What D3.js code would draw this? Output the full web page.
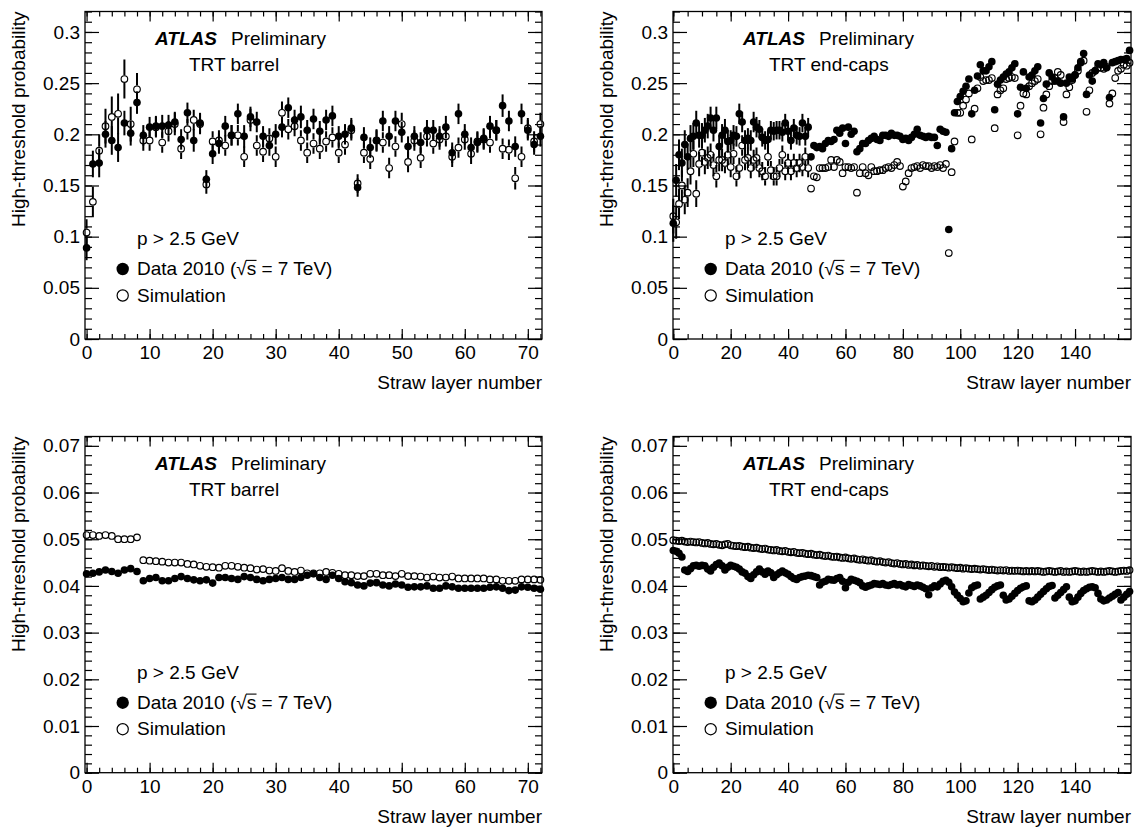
<!DOCTYPE html>
<html>
<head>
<meta charset="utf-8">
<script src="https://cdn.jsdelivr.net/npm/d3@7"></script>
<style>
body{margin:0;background:#fff}
svg{display:block}
text{font-family:"Liberation Sans",Arial,Helvetica,sans-serif;fill:#000}
</style>
</head>
<body>
<svg id="chart" width="1136" height="829"></svg>
<script>
// straw layer numbers
var layersBarrel = d3.range(0, 73)
var layersEndcap = d3.range(0, 160)

// barrel, electrons (p > 2.5 GeV)
var dataBarrelHigh = [
  0.089, 0.171, 0.172, 0.200, 0.194, 0.187, 0.211, 0.201, 0.231, 0.199,
  0.207, 0.208, 0.208, 0.209, 0.212, 0.195, 0.221, 0.194, 0.211, 0.156,
  0.181, 0.191, 0.208, 0.199, 0.220, 0.198, 0.217, 0.212, 0.198, 0.189,
  0.200, 0.207, 0.226, 0.214, 0.217, 0.204, 0.215, 0.203, 0.214, 0.218,
  0.198, 0.200, 0.206, 0.148, 0.197, 0.187, 0.194, 0.213, 0.198, 0.213,
  0.202, 0.188, 0.198, 0.192, 0.204, 0.204, 0.198, 0.207, 0.182, 0.220,
  0.200, 0.187, 0.192, 0.196, 0.208, 0.204, 0.228, 0.213, 0.188, 0.220,
  0.204, 0.190, 0.198]
var errBarrelData = [
  0.012, 0.013, 0.014, 0.013, 0.014, 0.014, 0.012, 0.012, 0.011, 0.010,
  0.010, 0.010, 0.011, 0.010, 0.010, 0.010, 0.010, 0.011, 0.010, 0.009,
  0.010, 0.010, 0.010, 0.010, 0.010, 0.011, 0.010, 0.010, 0.010, 0.010,
  0.010, 0.010, 0.010, 0.010, 0.011, 0.010, 0.010, 0.010, 0.010, 0.010,
  0.010, 0.010, 0.010, 0.009, 0.010, 0.010, 0.011, 0.010, 0.010, 0.010,
  0.010, 0.010, 0.010, 0.010, 0.010, 0.010, 0.010, 0.011, 0.010, 0.010,
  0.010, 0.010, 0.010, 0.010, 0.010, 0.010, 0.011, 0.010, 0.010, 0.010,
  0.010, 0.010, 0.010]
var simBarrelHigh = [
  0.104, 0.134, 0.184, 0.208, 0.217, 0.220, 0.254, 0.210, 0.244, 0.194,
  0.194, 0.207, 0.192, 0.203, 0.210, 0.186, 0.205, 0.214, 0.210, 0.151,
  0.193, 0.194, 0.189, 0.199, 0.199, 0.178, 0.214, 0.189, 0.183, 0.196,
  0.178, 0.221, 0.205, 0.208, 0.194, 0.182, 0.191, 0.186, 0.193, 0.197,
  0.182, 0.190, 0.204, 0.152, 0.182, 0.176, 0.194, 0.192, 0.167, 0.188,
  0.210, 0.173, 0.194, 0.177, 0.198, 0.191, 0.195, 0.198, 0.178, 0.187,
  0.195, 0.181, 0.193, 0.195, 0.192, 0.204, 0.186, 0.185, 0.157, 0.178,
  0.206, 0.193, 0.210]
var errBarrelSim = [
  0.013, 0.015, 0.016, 0.017, 0.020, 0.020, 0.019, 0.017, 0.016, 0.010,
  0.010, 0.010, 0.010, 0.010, 0.011, 0.010, 0.010, 0.010, 0.010, 0.009,
  0.010, 0.010, 0.010, 0.010, 0.010, 0.010, 0.011, 0.010, 0.010, 0.010,
  0.010, 0.011, 0.010, 0.010, 0.010, 0.010, 0.010, 0.010, 0.010, 0.010,
  0.010, 0.010, 0.010, 0.009, 0.010, 0.010, 0.010, 0.010, 0.010, 0.010,
  0.011, 0.010, 0.010, 0.010, 0.010, 0.010, 0.010, 0.010, 0.010, 0.010,
  0.010, 0.010, 0.010, 0.010, 0.010, 0.010, 0.010, 0.010, 0.011, 0.010,
  0.010, 0.010, 0.011]

// end-caps, electrons
var dataEndcapHigh = [
  0.113, 0.155, 0.180, 0.172, 0.190, 0.178, 0.196, 0.198, 0.211, 0.199,
  0.199, 0.204, 0.208, 0.216, 0.204, 0.216, 0.188, 0.199, 0.204, 0.193,
  0.194, 0.199, 0.198, 0.220, 0.212, 0.194, 0.196, 0.194, 0.212, 0.207,
  0.205, 0.197, 0.194, 0.195, 0.204, 0.203, 0.204, 0.204, 0.202, 0.211,
  0.203, 0.194, 0.206, 0.199, 0.198, 0.211, 0.198, 0.207, 0.178, 0.189,
  0.187, 0.188, 0.186, 0.191, 0.194, 0.193, 0.195, 0.204, 0.201, 0.206,
  0.191, 0.207, 0.200, 0.203, 0.183, 0.186, 0.191, 0.191, 0.194, 0.196,
  0.198, 0.195, 0.194, 0.199, 0.199, 0.198, 0.201, 0.199, 0.199, 0.198,
  0.195, 0.196, 0.194, 0.197, 0.200, 0.205, 0.199, 0.198, 0.197, 0.198,
  0.197, 0.197, 0.189, 0.205, 0.203, 0.202, 0.107, 0.186, 0.221, 0.232,
  0.237, 0.242, 0.247, 0.254, 0.220, 0.243, 0.257, 0.268, 0.262, 0.262,
  0.266, 0.271, 0.224, 0.249, 0.253, 0.256, 0.259, 0.261, 0.265, 0.269,
  0.220, 0.246, 0.261, 0.245, 0.256, 0.258, 0.262, 0.266, 0.211, 0.235,
  0.249, 0.260, 0.256, 0.252, 0.252, 0.250, 0.217, 0.250, 0.256, 0.254,
  0.258, 0.265, 0.270, 0.279, 0.239, 0.258, 0.252, 0.262, 0.269, 0.268,
  0.270, 0.265, 0.236, 0.270, 0.271, 0.272, 0.273, 0.273, 0.274, 0.282]
var errEndcapData = [
  0.018, 0.016, 0.015, 0.014, 0.014, 0.013, 0.013, 0.013, 0.012, 0.012,
  0.012, 0.012, 0.012, 0.011, 0.011, 0.011, 0.011, 0.011, 0.011, 0.011,
  0.010, 0.010, 0.010, 0.010, 0.010, 0.010, 0.010, 0.010, 0.010, 0.010,
  0.009, 0.009, 0.009, 0.009, 0.009, 0.009, 0.009, 0.009, 0.009, 0.009,
  0.009, 0.009, 0.009, 0.009, 0.009, 0.009, 0.009, 0.009]
var simEndcapHigh = [
  0.120, 0.114, 0.132, 0.150, 0.136, 0.143, 0.164, 0.181, 0.142, 0.171,
  0.182, 0.173, 0.177, 0.180, 0.170, 0.159, 0.175, 0.175, 0.172, 0.180,
  0.168, 0.181, 0.159, 0.167, 0.189, 0.175, 0.177, 0.167, 0.175, 0.177,
  0.167, 0.164, 0.159, 0.178, 0.165, 0.159, 0.159, 0.167, 0.180, 0.164,
  0.172, 0.164, 0.172, 0.167, 0.172, 0.168, 0.178, 0.167, 0.147, 0.159,
  0.158, 0.167, 0.167, 0.167, 0.168, 0.175, 0.168, 0.175, 0.173, 0.162,
  0.168, 0.168, 0.167, 0.168, 0.143, 0.162, 0.168, 0.162, 0.160, 0.168,
  0.164, 0.164, 0.165, 0.165, 0.167, 0.168, 0.167, 0.170, 0.173, 0.169,
  0.149, 0.154, 0.162, 0.167, 0.168, 0.169, 0.167, 0.170, 0.169, 0.169,
  0.167, 0.169, 0.168, 0.170, 0.167, 0.171, 0.084, 0.163, 0.193, 0.221,
  0.221, 0.228, 0.234, 0.240, 0.195, 0.225, 0.245, 0.256, 0.252, 0.253,
  0.253, 0.255, 0.206, 0.239, 0.243, 0.245, 0.254, 0.255, 0.256, 0.255,
  0.199, 0.228, 0.240, 0.239, 0.247, 0.250, 0.252, 0.254, 0.200, 0.226,
  0.239, 0.247, 0.252, 0.255, 0.261, 0.258, 0.212, 0.239, 0.246, 0.253,
  0.258, 0.262, 0.271, 0.272, 0.222, 0.243, 0.260, 0.262, 0.265, 0.265,
  0.264, 0.266, 0.230, 0.240, 0.255, 0.262, 0.264, 0.268, 0.267, 0.270]
var errEndcapSim = [
  0.017, 0.016, 0.015, 0.015, 0.014, 0.014, 0.013, 0.013, 0.013, 0.012,
  0.012, 0.012, 0.011, 0.011, 0.011, 0.011, 0.011, 0.011, 0.010, 0.010,
  0.010, 0.010, 0.010, 0.010, 0.010, 0.010, 0.010, 0.010, 0.010, 0.010,
  0.009, 0.009, 0.009, 0.009, 0.009, 0.009, 0.009, 0.009, 0.009, 0.009,
  0.009, 0.009, 0.009, 0.009, 0.009, 0.009, 0.009, 0.009]

// barrel, pions
var dataBarrelLow = [
  0.0426, 0.0427, 0.0430, 0.0434, 0.0431, 0.0427, 0.0434, 0.0437, 0.0431, 0.0411,
  0.0416, 0.0418, 0.0411, 0.0411, 0.0416, 0.0420, 0.0416, 0.0413, 0.0411, 0.0413,
  0.0406, 0.0418, 0.0418, 0.0416, 0.0414, 0.0420, 0.0418, 0.0414, 0.0411, 0.0414,
  0.0416, 0.0418, 0.0414, 0.0414, 0.0418, 0.0423, 0.0426, 0.0418, 0.0414, 0.0423,
  0.0416, 0.0409, 0.0407, 0.0402, 0.0400, 0.0406, 0.0407, 0.0402, 0.0400, 0.0404,
  0.0402, 0.0397, 0.0398, 0.0398, 0.0400, 0.0395, 0.0395, 0.0400, 0.0398, 0.0395,
  0.0395, 0.0395, 0.0395, 0.0395, 0.0397, 0.0398, 0.0395, 0.0390, 0.0391, 0.0398,
  0.0397, 0.0395, 0.0393]
var simBarrelLow = [
  0.0509, 0.0509, 0.0507, 0.0509, 0.0507, 0.0500, 0.0500, 0.0500, 0.0504, 0.0455,
  0.0454, 0.0453, 0.0452, 0.0450, 0.0450, 0.0450, 0.0447, 0.0446, 0.0443, 0.0441,
  0.0440, 0.0439, 0.0443, 0.0443, 0.0441, 0.0439, 0.0438, 0.0435, 0.0436, 0.0433,
  0.0432, 0.0438, 0.0432, 0.0430, 0.0433, 0.0427, 0.0427, 0.0427, 0.0430, 0.0428,
  0.0426, 0.0423, 0.0423, 0.0421, 0.0421, 0.0426, 0.0426, 0.0423, 0.0423, 0.0421,
  0.0426, 0.0421, 0.0421, 0.0420, 0.0418, 0.0420, 0.0418, 0.0418, 0.0420, 0.0416,
  0.0416, 0.0416, 0.0416, 0.0416, 0.0414, 0.0414, 0.0411, 0.0411, 0.0411, 0.0414,
  0.0414, 0.0414, 0.0413]

// end-caps, pions
var dataEndcapLow = [
  0.0476, 0.0474, 0.0470, 0.0462, 0.0434, 0.0431, 0.0437, 0.0443, 0.0444, 0.0442,
  0.0444, 0.0443, 0.0436, 0.0432, 0.0440, 0.0446, 0.0449, 0.0443, 0.0434, 0.0440,
  0.0444, 0.0442, 0.0440, 0.0436, 0.0430, 0.0427, 0.0420, 0.0416, 0.0424, 0.0430,
  0.0436, 0.0430, 0.0425, 0.0432, 0.0428, 0.0418, 0.0424, 0.0428, 0.0432, 0.0428,
  0.0425, 0.0420, 0.0416, 0.0414, 0.0418, 0.0420, 0.0421, 0.0423, 0.0422, 0.0420,
  0.0418, 0.0402, 0.0408, 0.0410, 0.0414, 0.0413, 0.0412, 0.0416, 0.0418, 0.0410,
  0.0396, 0.0408, 0.0414, 0.0412, 0.0410, 0.0407, 0.0400, 0.0397, 0.0400, 0.0402,
  0.0405, 0.0404, 0.0403, 0.0405, 0.0402, 0.0401, 0.0403, 0.0405, 0.0402, 0.0403,
  0.0400, 0.0398, 0.0403, 0.0401, 0.0399, 0.0402, 0.0400, 0.0397, 0.0394, 0.0381,
  0.0396, 0.0400, 0.0398, 0.0404, 0.0410, 0.0412, 0.0408, 0.0398, 0.0387, 0.0380,
  0.0373, 0.0366, 0.0368, 0.0385, 0.0396, 0.0400, 0.0402, 0.0372, 0.0376, 0.0380,
  0.0386, 0.0392, 0.0397, 0.0400, 0.0402, 0.0380, 0.0370, 0.0372, 0.0378, 0.0384,
  0.0390, 0.0395, 0.0398, 0.0400, 0.0368, 0.0366, 0.0370, 0.0376, 0.0382, 0.0388,
  0.0394, 0.0399, 0.0401, 0.0374, 0.0380, 0.0386, 0.0392, 0.0398, 0.0376, 0.0366,
  0.0368, 0.0376, 0.0384, 0.0390, 0.0394, 0.0397, 0.0398, 0.0396, 0.0384, 0.0372,
  0.0368, 0.0370, 0.0374, 0.0378, 0.0382, 0.0386, 0.0370, 0.0376, 0.0382, 0.0388]
var simEndcapLow = [
  0.0498, 0.0497, 0.0496, 0.0497, 0.0495, 0.0494, 0.0495, 0.0494, 0.0493, 0.0494,
  0.0492, 0.0491, 0.0492, 0.0490, 0.0489, 0.0490, 0.0488, 0.0487, 0.0489, 0.0490,
  0.0487, 0.0486, 0.0485, 0.0486, 0.0484, 0.0483, 0.0484, 0.0482, 0.0481, 0.0482,
  0.0480, 0.0479, 0.0480, 0.0478, 0.0477, 0.0476, 0.0477, 0.0475, 0.0474, 0.0475,
  0.0473, 0.0472, 0.0473, 0.0471, 0.0470, 0.0471, 0.0469, 0.0468, 0.0469, 0.0467,
  0.0466, 0.0467, 0.0465, 0.0464, 0.0465, 0.0463, 0.0462, 0.0463, 0.0461, 0.0460,
  0.0461, 0.0459, 0.0458, 0.0459, 0.0457, 0.0456, 0.0457, 0.0455, 0.0454, 0.0455,
  0.0453, 0.0452, 0.0453, 0.0451, 0.0450, 0.0451, 0.0449, 0.0448, 0.0449, 0.0447,
  0.0446, 0.0447, 0.0445, 0.0446, 0.0444, 0.0445, 0.0443, 0.0444, 0.0443, 0.0442,
  0.0443, 0.0441, 0.0442, 0.0440, 0.0441, 0.0440, 0.0439, 0.0440, 0.0439, 0.0438,
  0.0439, 0.0437, 0.0438, 0.0437, 0.0436, 0.0437, 0.0436, 0.0435, 0.0436, 0.0435,
  0.0434, 0.0435, 0.0434, 0.0433, 0.0434, 0.0433, 0.0434, 0.0432, 0.0433, 0.0432,
  0.0433, 0.0432, 0.0431, 0.0432, 0.0431, 0.0432, 0.0431, 0.0432, 0.0431, 0.0430,
  0.0431, 0.0432, 0.0431, 0.0430, 0.0431, 0.0432, 0.0430, 0.0431, 0.0430, 0.0431,
  0.0432, 0.0431, 0.0430, 0.0431, 0.0430, 0.0431, 0.0432, 0.0431, 0.0430, 0.0431,
  0.0430, 0.0431, 0.0432, 0.0431, 0.0430, 0.0431, 0.0432, 0.0433, 0.0432, 0.0434]

var svg = d3.select('#chart')
var fontFamily = '"Liberation Sans", Arial, Helvetica, sans-serif'
var fs = 19

function stepTicks(domain, step){
  return d3.range(0, domain[1] + step * 1e-3, step)
    .map(function(v){ return +v.toFixed(4) })
    .filter(function(v){ return v >= domain[0] && v <= domain[1] })
}

function addAxis(g, gen, tx, ty){
  var a = g.append('g').attr('transform', 'translate(' + tx + ',' + ty + ')').call(gen)
  a.select('.domain').remove()
  a.attr('font-size', fs).attr('font-family', fontFamily).attr('color', '#000')
  a.selectAll('line').attr('stroke-width', 1.2)
  return a
}

function drawSeries(g, x, y, layers, vals, errs, filled){
  var pts = vals.map(function(v, i){ return {l: layers[i], v: v, e: errs && errs[i] ? errs[i] : 0} })
  var r = filled ? 3.8 : 3.3
  g.append('g').selectAll('path')
    .data(pts.filter(function(d){ return d.e > 0 }))
    .join('path')
    .attr('d', function(d){
      var cx = x(d.l), cy = y(d.v), top = y(d.v + d.e), bot = y(d.v - d.e)
      if (filled) return 'M' + cx + ',' + top + 'V' + bot
      var s = ''
      if (cy - r - 0.6 > top) s += 'M' + cx + ',' + top + 'V' + (cy - r - 0.6)
      if (cy + r + 0.6 < bot) s += 'M' + cx + ',' + (cy + r + 0.6) + 'V' + bot
      return s || 'M0,0'
    })
    .attr('stroke', '#000').attr('stroke-width', 2).attr('fill', 'none')
  g.append('g').selectAll('circle')
    .data(pts)
    .join('circle')
    .attr('cx', function(d){ return x(d.l) })
    .attr('cy', function(d){ return y(d.v) })
    .attr('r', r)
    .attr('fill', filled ? '#000' : 'none')
    .attr('stroke', '#000')
    .attr('stroke-width', filled ? 0 : 1.15)
}

function drawPanel(p){
  var g = svg.append('g')
  var x = d3.scaleLinear().domain(p.xDomain).range([p.left, p.right])
  var y = d3.scaleLinear().domain(p.yDomain).range([p.bottom, p.top])

  var yMaj = stepTicks(p.yDomain, p.yMajor), yMin = stepTicks(p.yDomain, p.yMinor)
  var xMaj = stepTicks(p.xDomain, p.xMajor), xMin = stepTicks(p.xDomain, p.xMinor)
  var yFmt = function(v){ return String(+v.toFixed(3)) }

  addAxis(g, d3.axisLeft(y).tickValues(yMaj).tickSize(-14).tickPadding(5).tickFormat(yFmt), p.left, 0)
  addAxis(g, d3.axisLeft(y).tickValues(yMin).tickSize(-7).tickFormat(''), p.left, 0)
  addAxis(g, d3.axisRight(y).tickValues(yMaj).tickSize(-14).tickFormat(''), p.right, 0)
  addAxis(g, d3.axisRight(y).tickValues(yMin).tickSize(-7).tickFormat(''), p.right, 0)
  addAxis(g, d3.axisBottom(x).tickValues(xMaj).tickSize(-10).tickPadding(6.5).tickFormat(d3.format('d')), 0, p.bottom)
  addAxis(g, d3.axisBottom(x).tickValues(xMin).tickSize(-5).tickFormat(''), 0, p.bottom)
  addAxis(g, d3.axisTop(x).tickValues(xMaj).tickSize(-10).tickFormat(''), 0, p.top)
  addAxis(g, d3.axisTop(x).tickValues(xMin).tickSize(-5).tickFormat(''), 0, p.top)

  g.append('rect')
    .attr('x', p.left).attr('y', p.top)
    .attr('width', p.right - p.left).attr('height', p.bottom - p.top)
    .attr('fill', 'none').attr('stroke', '#000').attr('stroke-width', 1.3)

  // axis titles
  g.append('text')
    .attr('transform', 'translate(' + (p.left - 60) + ',' + p.top + ') rotate(-90)')
    .attr('text-anchor', 'end').attr('font-size', fs)
    .text('High-threshold probability')
  g.append('text')
    .attr('x', p.right).attr('y', p.bottom + 50)
    .attr('text-anchor', 'end').attr('font-size', fs)
    .text('Straw layer number')

  // series
  drawSeries(g, x, y, p.layers, p.sim, p.simErr, false)
  drawSeries(g, x, y, p.layers, p.data, p.dataErr, true)

  // labels
  g.append('text').attr('x', p.left + 70).attr('y', p.top + 33.5)
    .attr('font-size', fs).attr('font-weight', 'bold').attr('font-style', 'italic')
    .text('ATLAS')
  g.append('text').attr('x', p.left + 146).attr('y', p.top + 33.5)
    .attr('font-size', fs).text('Preliminary')
  g.append('text').attr('x', p.left + p.subX).attr('y', p.top + 59.5)
    .attr('font-size', fs).text(p.sub)

  // legend
  var lx = p.left + 52, mx = p.left + 37.7
  g.append('text').attr('x', lx).attr('y', p.bottom - 94).attr('font-size', fs).text('p > 2.5 GeV')
  g.append('circle').attr('cx', mx).attr('cy', p.bottom - 70).attr('r', 6.2).attr('fill', '#000')
  var dt = g.append('text').attr('x', lx).attr('y', p.bottom - 64).attr('font-size', fs)
    .text('Data 2010 (\u221As = 7 TeV)')
  var n = dt.node()
  var e1 = n.getExtentOfChar(11), e2 = n.getExtentOfChar(12)
  var oy = p.bottom - 64 - 14.6
  g.append('line')
    .attr('x1', e1.x + e1.width - 0.8).attr('x2', e2.x + e2.width + 0.3)
    .attr('y1', oy).attr('y2', oy)
    .attr('stroke', '#000').attr('stroke-width', 1.1)
  g.append('circle').attr('cx', mx).attr('cy', p.bottom - 43.5).attr('r', 5.6)
    .attr('fill', 'none').attr('stroke', '#000').attr('stroke-width', 1.2)
  g.append('text').attr('x', lx).attr('y', p.bottom - 37.5).attr('font-size', fs).text('Simulation')
}

var colL = {left: 85, right: 542, xDomain: [-0.25, 72.25], xMajor: 10, xMinor: 2, layers: layersBarrel, sub: 'TRT barrel', subX: 104}
var colR = {left: 673, right: 1131, xDomain: [-0.1, 159.5], xMajor: 20, xMinor: 5, layers: layersEndcap, sub: 'TRT end-caps', subX: 96}
var rowT = {top: 11.5, bottom: 339, yDomain: [0, 0.32], yMajor: 0.05, yMinor: 0.01}
var rowB = {top: 436.5, bottom: 772.7, yDomain: [0, 0.072], yMajor: 0.01, yMinor: 0.002}

drawPanel(Object.assign({}, colL, rowT, {data: dataBarrelHigh, dataErr: errBarrelData, sim: simBarrelHigh, simErr: errBarrelSim}))
drawPanel(Object.assign({}, colR, rowT, {data: dataEndcapHigh, dataErr: errEndcapData, sim: simEndcapHigh, simErr: errEndcapSim}))
drawPanel(Object.assign({}, colL, rowB, {data: dataBarrelLow, dataErr: null, sim: simBarrelLow, simErr: null}))
drawPanel(Object.assign({}, colR, rowB, {data: dataEndcapLow, dataErr: null, sim: simEndcapLow, simErr: null}))
</script>
</body>
</html>
